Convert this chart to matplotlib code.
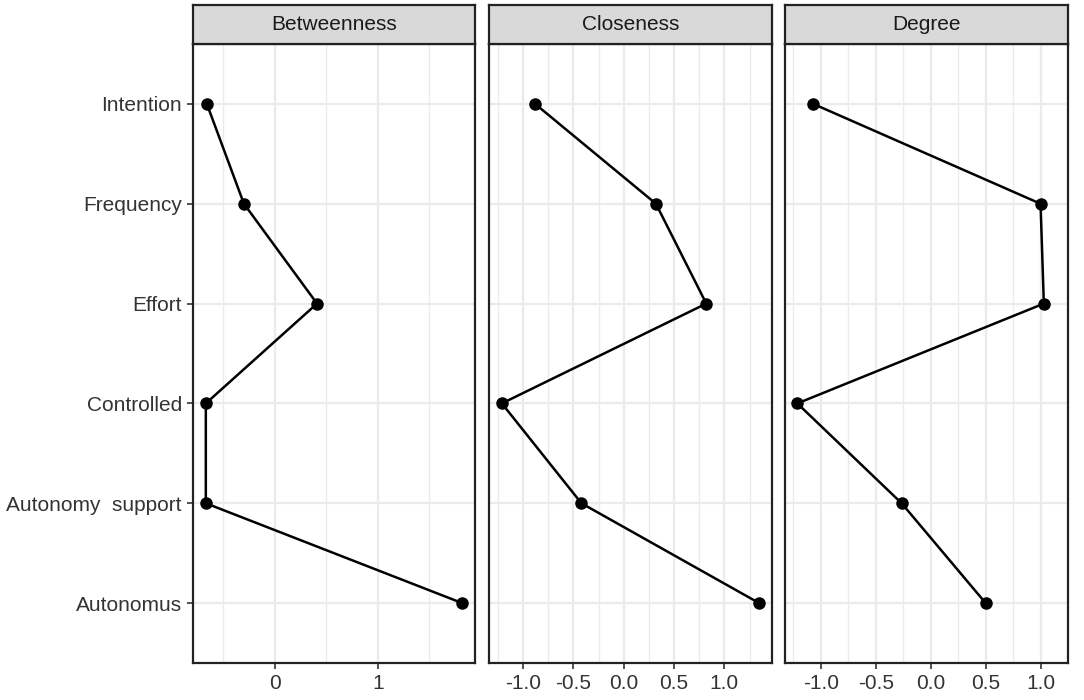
import matplotlib.pyplot as plt
import numpy as np

plt.rcParams['font.family'] = ['Liberation Sans', 'DejaVu Sans']

nodes = ['Intention', 'Frequency', 'Effort', 'Controlled', 'Autonomy  support', 'Autonomus']
measures = ['Betweenness', 'Closeness', 'Degree']

betweenness = [-0.66, -0.30, 0.41, -0.67, -0.67, 1.82]
closeness = [-0.88, 0.32, 0.82, -1.21, -0.42, 1.345]
degree = [-1.07, 1.00, 1.03, -1.215, -0.265, 0.50]
values = [betweenness, closeness, degree]

major_ticks = [[0, 1], [-1.0, -0.5, 0.0, 0.5, 1.0], [-1.0, -0.5, 0.0, 0.5, 1.0]]
minor_ticks = [[-0.5, 0.5, 1.5],
               [-1.25, -0.75, -0.25, 0.25, 0.75, 1.25],
               [-1.25, -0.75, -0.25, 0.25, 0.75, 1.25]]
tick_labels = [['0', '1'], ['-1.0', '-0.5', '0.0', '0.5', '1.0'], ['-1.0', '-0.5', '0.0', '0.5', '1.0']]

W, H = 1084, 700
fig = plt.figure(figsize=(W / 100, H / 100), dpi=100)

# panel pixel boxes (left, right)
panels_px = [(193, 475), (489, 772), (785, 1068)]
top_px, bottom_px, strip_top = 44, 663, 5

ypos = np.arange(len(nodes))[::-1] + 1  # Intention on top

for i, (l, r) in enumerate(panels_px):
    ax = fig.add_axes([l / W, 1 - bottom_px / H, (r - l) / W, (bottom_px - top_px) / H])
    x = np.array(values[i])
    span = x.max() - x.min()
    ax.set_xlim(x.min() - 0.05 * span, x.max() + 0.05 * span)
    ax.set_ylim(0.4, len(nodes) + 0.6)

    ax.set_xticks(major_ticks[i])
    ax.set_xticklabels(tick_labels[i])
    ax.set_xticks(minor_ticks[i], minor=True)
    ax.set_yticks(ypos)

    ax.grid(True, which='major', color='#ebebeb', linewidth=1.6)
    ax.grid(True, which='minor', axis='x', color='#ebebeb', linewidth=1.0)
    ax.set_axisbelow(True)
    ax.tick_params(which='minor', length=0)
    ax.tick_params(which='major', length=4, width=1.2, color='#333333',
                   labelsize=15, labelcolor='#333333', pad=4)
    if i == 0:
        ax.set_yticklabels(nodes)
    else:
        ax.set_yticklabels([])
        ax.tick_params(axis='y', which='major', length=0)

    for s in ax.spines.values():
        s.set_color('#222222')
        s.set_linewidth(1.6)

    ax.plot(x, ypos, '-', color='black', linewidth=1.8, zorder=3)
    ax.plot(x, ypos, 'o', color='black', markersize=8, zorder=4)

    # facet strip
    sax = fig.add_axes([l / W, 1 - top_px / H, (r - l) / W, (top_px - strip_top) / H])
    sax.set_facecolor('#d9d9d9')
    sax.set_xticks([])
    sax.set_yticks([])
    for s in sax.spines.values():
        s.set_color('#222222')
        s.set_linewidth(1.6)
    sax.text(0.5, 0.5, measures[i], ha='center', va='center', fontsize=15,
             color='#1a1a1a', transform=sax.transAxes)

plt.savefig('out.png', dpi=100)
